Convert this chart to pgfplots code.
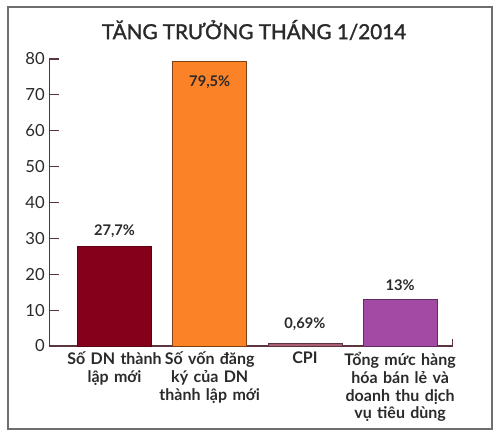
\documentclass[border=0pt]{standalone}
\usepackage{fontspec}
\setmainfont{Lato}
\usepackage{pgfplots}
\pgfplotsset{compat=1.18}
\definecolor{barA}{HTML}{85001A}
\definecolor{barB}{HTML}{FB8227}
\definecolor{barC}{HTML}{A85F73}
\definecolor{barD}{HTML}{A24AA4}
\definecolor{axiscol}{HTML}{5A3540}
\definecolor{framecol}{HTML}{6E6E6E}
\definecolor{txt}{HTML}{2A2A2A}
\begin{document}
\begin{tikzpicture}
\begin{scope}[x=0.75pt,y=-0.75pt]
  \draw[framecol, line width=1.3pt] (8,7) rectangle (492,429);
  \node[text=txt, font=\fontsize{15.5}{18}\selectfont\addfontfeature{FakeBold=1.5}] at (254,30) {TĂNG TRƯỞNG THÁNG 1/2014};
\end{scope}
\begin{axis}[
    at={(37.125pt,-259.5pt)}, anchor=south west,
    scale only axis,
    width=302.25pt, height=215.25pt,
    ybar, bar width=55.5pt, bar shift=0pt,
    xmin=-0.683, xmax=3.55,
    ymin=0, ymax=80,
    axis lines=left,
    axis line style={-, axiscol, line width=0.8pt},
    clip=false,
    ytick={0,10,...,80},
    ytick style={axiscol, line width=0.8pt},
    major tick length=7.5pt,
    tick align=inside,
    yticklabel style={text=txt, font=\fontsize{12.5}{14}\selectfont, /pgf/number format/assume math mode=true},
    xtick={0,1,2,3},
    xtick style={draw=none},
    xticklabels={Số DN thành\\lập mới, Số vốn đăng\\ký của DN\\thành lập mới, CPI, Tổng mức hàng\\hóa bán lẻ và\\doanh thu dịch\\vụ tiêu dùng},
    xticklabel style={text=txt, align=center, text width=100pt, anchor=north, yshift=-1pt,
        font=\bfseries\fontsize{12}{13.4}\selectfont},
    every node near coord/.append style={text=txt, font=\bfseries\fontsize{11}{12}\selectfont},
]
\addplot[fill=barA, draw=barA!70!black, nodes near coords={27,7\%}, every node near coord/.append style={yshift=3pt}] coordinates {(0,27.7)};
\addplot[fill=barB, draw=barB!50!black, nodes near coords={79,5\%}, every node near coord/.append style={anchor=north, yshift=-8pt}] coordinates {(1,79.5)};
\addplot[fill=barC, draw=axiscol, nodes near coords={0,69\%}, every node near coord/.append style={yshift=6pt}] coordinates {(2,0.69)};
\addplot[fill=barD, draw=barD!60!black, nodes near coords={13\%}, every node near coord/.append style={yshift=3pt}] coordinates {(3,13)};
\draw[axiscol, line width=0.8pt] (axis cs:3.55,0) -- (axis cs:3.55,2);
\end{axis}
\pgfresetboundingbox
\useasboundingbox (0,0) rectangle (375pt,-327pt);
\end{tikzpicture}
\end{document}
